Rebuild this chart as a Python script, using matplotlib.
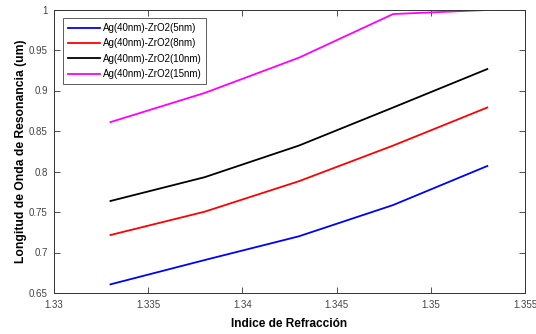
import matplotlib.pyplot as plt

# Datos
indice = [1.333, 1.338, 1.343, 1.348, 1.353]
zro2_5nm = [0.6607, 0.6907, 0.7200, 0.7586, 0.8068]
zro2_8nm = [0.7216, 0.7504, 0.7880, 0.8320, 0.8790]
zro2_10nm = [0.7636, 0.7930, 0.8320, 0.8790, 0.9265]
zro2_15nm = [0.8610, 0.8970, 0.9405, 0.9944, 0.9994]
etiquetas = ['Ag(40nm)-ZrO2(5nm)', 'Ag(40nm)-ZrO2(8nm)',
             'Ag(40nm)-ZrO2(10nm)', 'Ag(40nm)-ZrO2(15nm)']
colores = ['#0000ff', '#ff0000', '#000000', '#ff00ff']

xticks = [1.33, 1.335, 1.34, 1.345, 1.35, 1.355]
yticks = [0.65, 0.7, 0.75, 0.8, 0.85, 0.9, 0.95, 1]

plt.rcParams['font.family'] = ['Liberation Sans', 'DejaVu Sans']

fig = plt.figure(figsize=(5.36, 3.34), dpi=100)
ax = fig.add_axes([54 / 536, 1 - 293 / 334, 471 / 536, 283.5 / 334])

series = [zro2_5nm, zro2_8nm, zro2_10nm, zro2_15nm]
for datos, etiqueta, color in zip(series, etiquetas, colores):
  ax.plot(indice, datos, color=color, linewidth=1.3, label=etiqueta)

ax.set_xlim(1.33, 1.355)
ax.set_ylim(0.65, 1)
ax.set_xticks(xticks)
ax.set_xticklabels(['1.33', '1.335', '1.34', '1.345', '1.35', '1.355'])
ax.set_yticks(yticks)
ax.set_yticklabels(['0.65', '0.7', '0.75', '0.8', '0.85', '0.9', '0.95', '1'])
ax.tick_params(direction='in', top=True, right=True, length=4, width=0.6,
               labelsize=7, colors='#333333', labelcolor='#444444')
ax.tick_params(axis='x', pad=5)
ax.tick_params(axis='y', pad=4.5)
for s in ax.spines.values():
  s.set_color('#333333')
  s.set_linewidth(0.7)

ax.set_xlabel('Indice de Refracción', fontsize=8.6, fontweight='bold', labelpad=6)
ax.set_ylabel('Longitud de Onda de Resonancia (um)', fontsize=8.7,
              fontweight='bold', labelpad=1)

leg = ax.legend(loc='upper left', fontsize=7, frameon=True, fancybox=False,
                edgecolor='#333333', borderaxespad=0.9, handlelength=3.3,
                labelspacing=0.55, borderpad=0.5, handletextpad=0.3)
leg.get_frame().set_linewidth(0.7)

fig.savefig('out.png', dpi=100)
